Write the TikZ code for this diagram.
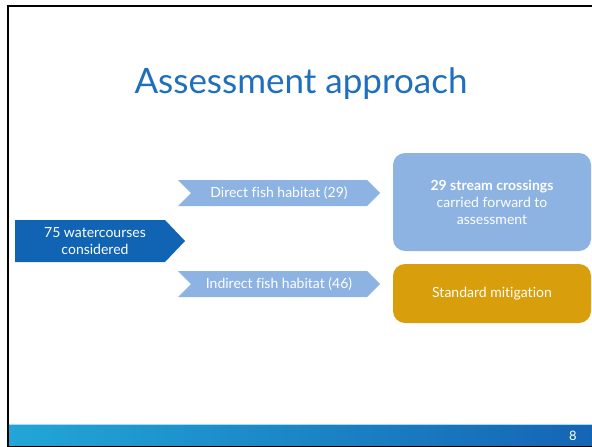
\documentclass[tikz,border=0pt]{standalone}
\usepackage{fontspec}
\setmainfont{Lato}[Ligatures=NoCommon]
\usetikzlibrary{positioning}

\definecolor{azulTitulo}{HTML}{1F6FBD}
\definecolor{azulEscuro}{HTML}{1164B4}
\definecolor{azulClaro}{HTML}{8DB3E2}
\definecolor{ouro}{HTML}{D99E0B}
\definecolor{faixaEsq}{HTML}{22A6D6}
\definecolor{faixaDir}{HTML}{1565B5}

\begin{document}
\begin{tikzpicture}[
    x=1pt, y=-1pt,
    font=\fontsize{14}{17}\selectfont,
    % Estilo do texto sobre as setas (chevrons)
    rotulo/.style={text=white, align=center, inner sep=0pt},
    % Estilo das caixas arredondadas da direita
    caixa/.style={text=white, align=center, rounded corners=12pt,
        minimum width=198pt, inner sep=0pt}
]
\useasboundingbox (0,0) rectangle (592,447);

% =========================================================
% === PARÂMETROS DOS CHEVRONS ===
% =========================================================
\def\chevW{202}   % Largura total de cada chevron
\def\chevH{26}    % Altura de cada chevron
\def\chevTip{13}  % Profundidade da ponta (e do entalhe)
% =========================================================

% Macro para desenhar cada chevron com entalhe
% #1: Nome do node
% #2, #3: Coordenadas X e Y do centro
% #4: Cor de preenchimento
% #5: Texto
\def\chevron#1(#2,#3)[#4]#5{
    \fill[#4] ({#2-\chevW/2},{#3-\chevH/2}) -- ({#2+\chevW/2-\chevTip},{#3-\chevH/2})
        -- ({#2+\chevW/2},{#3}) -- ({#2+\chevW/2-\chevTip},{#3+\chevH/2})
        -- ({#2-\chevW/2},{#3+\chevH/2}) -- ({#2-\chevW/2+\chevTip},{#3}) -- cycle;
    \node[rotulo] (#1) at ({#2},{#3}) {#5};
}

% --- Moldura do slide ---
\fill[black] (7,5) rectangle (592,7);
\fill[black] (7,5) rectangle (9,447);
\fill[black] (7,445) rectangle (592,447);

% --- Faixa inferior com gradiente ---
\shade[left color=faixaEsq, right color=faixaDir] (9,424) rectangle (592,445);
\fill[faixaEsq!40!white] (9,423.5) rectangle (592,424.5);
\node[text=white, inner sep=0pt, font=\fontsize{13}{15}\selectfont] (pagina) at (573,436) {8};

% --- Título ---
\node[text=azulTitulo, font=\fontsize{35}{40}\selectfont] (titulo) at (301,84) {Assessment approach};

% --- Seta principal (esquerda) ---
\fill[azulEscuro] (15,220) -- (165,220) -- (185,241) -- (165,262) -- (15,262) -- cycle;
\node[rotulo] (origem) at (95,241) {75 watercourses\\considered};

% --- Chevrons do meio ---
\chevron{direto}(279,193)[azulClaro]{Direct fish habitat (29)}
\chevron{indireto}(279,284)[azulClaro]{Indirect fish habitat (46)}

% --- Caixas de resultado ---
\node[caixa, fill=azulClaro, minimum height=98pt] (travessias) at (492,202)
    {{\bfseries 29 stream crossings}\\carried forward to\\assessment};
\node[caixa, fill=ouro, minimum height=59pt] (mitigacao) at (492,293.5) {Standard mitigation};

\end{tikzpicture}
\end{document}
